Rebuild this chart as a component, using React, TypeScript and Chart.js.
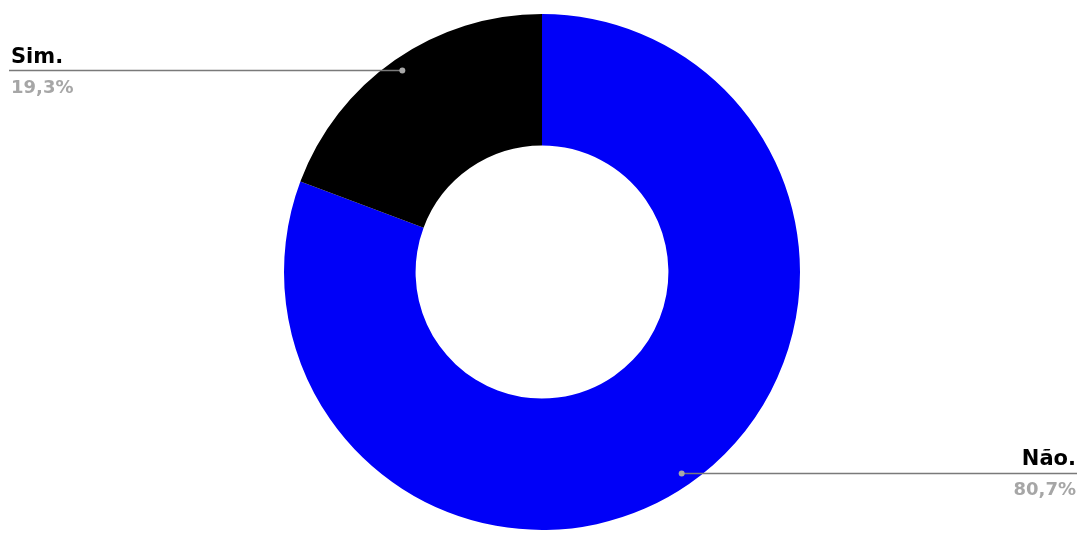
import React, { useEffect, useRef } from "react";
import { Chart, registerables } from "chart.js";

Chart.register(...registerables);

const categories: string[] = ["Não.", "Sim."];
const values: number[] = [80.7, 19.3];
const sliceColors: string[] = ["#0000f8", "#000000"];

const calloutPlugin = {
  id: "callouts",
  afterDraw(chart: any) {
    const ctx = chart.ctx as CanvasRenderingContext2D;
    const meta = chart.getDatasetMeta(0);
    const data = chart.data.datasets[0].data as number[];
    const total = data.reduce((a, b) => a + b, 0);
    meta.data.forEach((arc: any, i: number) => {
      const { x, y, startAngle, endAngle, outerRadius } = arc.getProps(
        ["x", "y", "startAngle", "endAngle", "outerRadius"],
        true
      );
      const mid = (startAngle + endAngle) / 2;
      const r = outerRadius * 0.95;
      const dx = x + Math.cos(mid) * r;
      const dy = y + Math.sin(mid) * r;
      const left = Math.cos(mid) < 0;
      const endX = left ? 9 : chart.width - 4;
      ctx.save();
      ctx.strokeStyle = "#7a7a7a";
      ctx.lineWidth = 1.5;
      ctx.beginPath();
      ctx.moveTo(dx, dy);
      ctx.lineTo(endX, dy);
      ctx.stroke();
      ctx.fillStyle = "#a8a8a8";
      ctx.beginPath();
      ctx.arc(dx, dy, 3, 0, Math.PI * 2);
      ctx.fill();
      ctx.textAlign = left ? "left" : "right";
      const tx = left ? 11 : chart.width - 5;
      ctx.textBaseline = "alphabetic";
      ctx.fillStyle = "#000000";
      ctx.font = "bold 21px 'DejaVu Sans'";
      ctx.fillText(String(chart.data.labels[i]), tx, dy - 8);
      const pct = ((data[i] / total) * 100).toFixed(1).replace(".", ",") + "%";
      ctx.fillStyle = "#a6a6a6";
      ctx.font = "bold 18px 'DejaVu Sans'";
      ctx.fillText(pct, tx, dy + 22);
      ctx.restore();
    });
  },
};

export default function App() {
  const ref = useRef<HTMLCanvasElement | null>(null);
  useEffect(() => {
    if (!ref.current) return;
    const chart = new Chart(ref.current, {
      type: "doughnut",
      data: {
        labels: categories,
        datasets: [
          {
            data: values,
            backgroundColor: sliceColors,
            borderWidth: 0,
          },
        ],
      },
      options: {
        responsive: false,
        animation: false,
        cutout: "49%",
        rotation: 0,
        layout: { padding: { left: 284, right: 281, top: 14, bottom: 3 } },
        plugins: {
          legend: { display: false },
          tooltip: { enabled: false },
        },
      },
      plugins: [calloutPlugin],
    });
    return () => chart.destroy();
  }, []);
  return (
    <div style={{ position: "fixed", left: 0, top: 0, width: 1081, height: 533, background: "#fff" }}>
      <canvas ref={ref} width={1081} height={533} style={{ width: 1081, height: 533 }} />
    </div>
  );
}
